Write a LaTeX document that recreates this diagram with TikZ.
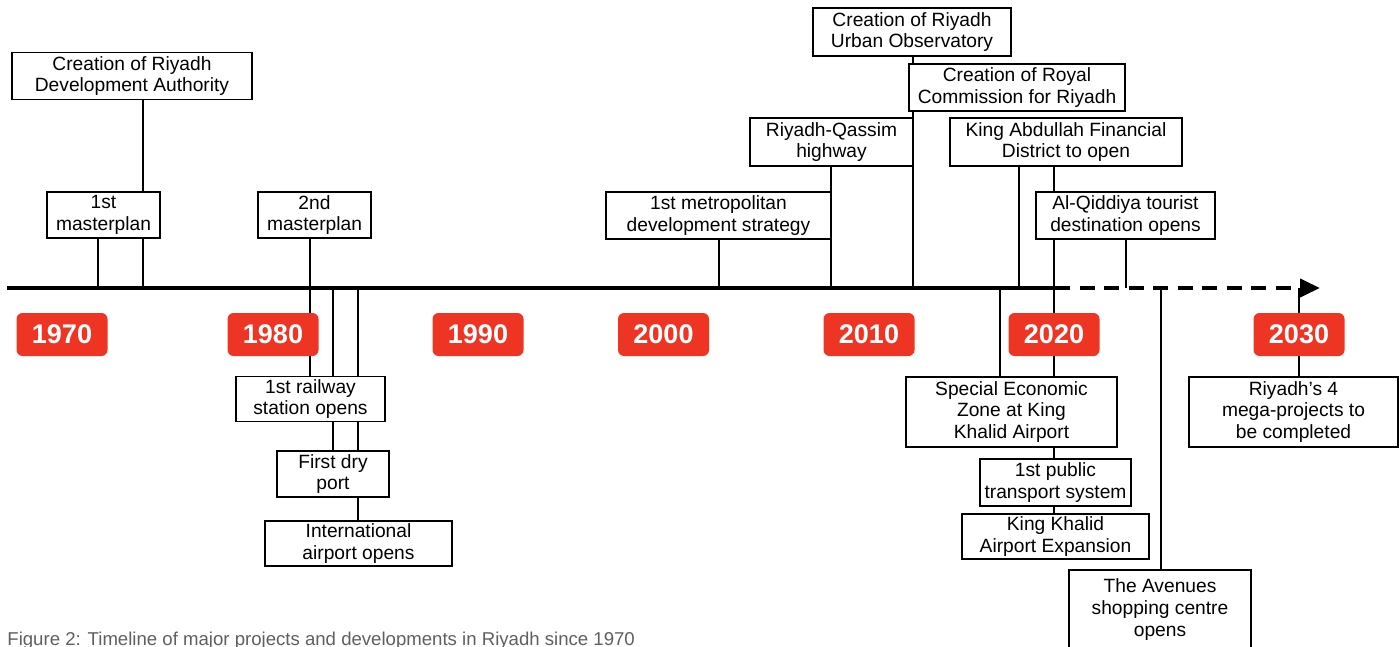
\documentclass[tikz,border=0pt]{standalone}
\usepackage{fontspec}
\setmainfont{Liberation Sans}
\usepackage{xcolor}
\usetikzlibrary{arrows.meta,backgrounds}

\definecolor{yearred}{RGB}{238,53,36}
\definecolor{capgray}{RGB}{95,95,95}

\begin{document}
\begin{tikzpicture}[x=0.5pt,y=-0.5pt,
    event/.style={draw, line width=0.7pt, fill=white, align=center,
      inner sep=0pt, font=\fontsize{9.6}{10.8}\selectfont},
    year/.style={fill=yearred, rounded corners=3pt, text=white,
      inner sep=0pt, minimum width=45.5pt, minimum height=21.5pt,
      font=\fontsize{13.5}{14}\selectfont\bfseries},
    tie/.style={line width=0.7pt},
    axis/.style={line width=2pt}]
  \useasboundingbox (0,0) rectangle (1399,647);
  \clip (0,0) rectangle (1399,647);

  % decades
  \foreach \yr/\x in {1970/62,1980/273,1990/478,2000/663.5,
                      2010/869,2020/1054,2030/1299}
    \node[year] (y\yr) at (\x,334.5) {\yr};

  % above the line
  \node[event, minimum width=120pt, minimum height=23.5pt] (rda)
    at (132,76) {Creation of Riyadh\\Development Authority};
  \node[event, minimum width=56.5pt, minimum height=23pt] (mp1)
    at (103.5,215) {1st\\masterplan};
  \node[event, minimum width=56.5pt, minimum height=23pt] (mp2)
    at (314.5,215) {2nd\\masterplan};
  \node[event, minimum width=112.5pt, minimum height=23.5pt] (metro)
    at (718.5,215.5) {1st metropolitan\\development strategy};
  \node[event, minimum width=81.5pt, minimum height=24pt] (qassim)
    at (831.5,142) {Riyadh-Qassim\\highway};
  \node[event, minimum width=99pt, minimum height=24pt] (urban)
    at (912,32) {Creation of Riyadh\\Urban Observatory};
  \node[event, minimum width=108pt, minimum height=23.5pt] (royal)
    at (1017,87.5) {Creation of Royal\\Commission for Riyadh};
  \node[event, minimum width=116pt, minimum height=24pt] (kafd)
    at (1066,142) {King Abdullah Financial\\District to open};
  \node[event, minimum width=89.5pt, minimum height=23.5pt] (qiddiya)
    at (1125.5,215.5) {Al-Qiddiya tourist\\destination opens};

  % below the line
  \node[event, minimum width=74.5pt, minimum height=22.5pt] (rail)
    at (310.5,399) {1st railway\\station opens};
  \node[event, minimum width=56pt, minimum height=23pt] (dry)
    at (333,474) {First dry\\port};
  \node[event, minimum width=93.5pt, minimum height=22.5pt] (intl)
    at (358.5,543.5) {International\\airport opens};
  \node[event, minimum width=105.5pt, minimum height=35pt] (sez)
    at (1011.5,412) {Special Economic\\Zone at King\\Khalid Airport};
  \node[event, minimum width=75.5pt, minimum height=23.5pt] (pts)
    at (1055.5,482.5) {1st public\\transport system};
  \node[event, minimum width=93.5pt, minimum height=22.5pt] (kkae)
    at (1055.5,536.5) {King Khalid\\Airport Expansion};
  \node[event, minimum width=91pt, minimum height=39.5pt] (avenues)
    at (1160,609.5) {The Avenues\\shopping centre\\opens};
  \node[event, minimum width=104.5pt, minimum height=35pt] (mega)
    at (1293.5,412) {Riyadh’s 4\\mega-projects to\\be completed};

  \node[anchor=base west, inner sep=0pt, text=capgray,
        font=\fontsize{9.3}{11}\selectfont] (caption) at (7,645)
    {Figure 2: Timeline of major projects and developments in Riyadh since 1970};

  \begin{pgfonlayer}{background}
    \coordinate (tstart) at (7,288);
    \coordinate (tdash) at (1055,288);
    \coordinate (tend) at (1320,288);

    \foreach \n/\x in {rda/143,mp1/98,mp2/310,metro/719,qassim/831,
                       urban/913,royal/913,kafd/1019,qiddiya/1126} {
      \coordinate (on-\n) at (\x,288);
      \draw[tie] (\n.south -| on-\n) -- (on-\n);
    }
    \foreach \n/\x in {rail/310,dry/333,intl/358,sez/1000,
                       avenues/1161,mega/1299} {
      \coordinate (on-\n) at (\x,288);
      \draw[tie] (on-\n) -- (\n.north -| on-\n);
    }
    % 2020 runs through everything
    \draw[tie] (kafd.south -| y2020) -- (kkae.north -| y2020);

    \draw[axis] (tstart) -- (tdash);
    \draw[axis, dash pattern=on 7.5pt off 4.75pt,
          -{Triangle[length=10pt,width=9pt]}] (tdash) -- (tend);
  \end{pgfonlayer}
\end{tikzpicture}
\end{document}
